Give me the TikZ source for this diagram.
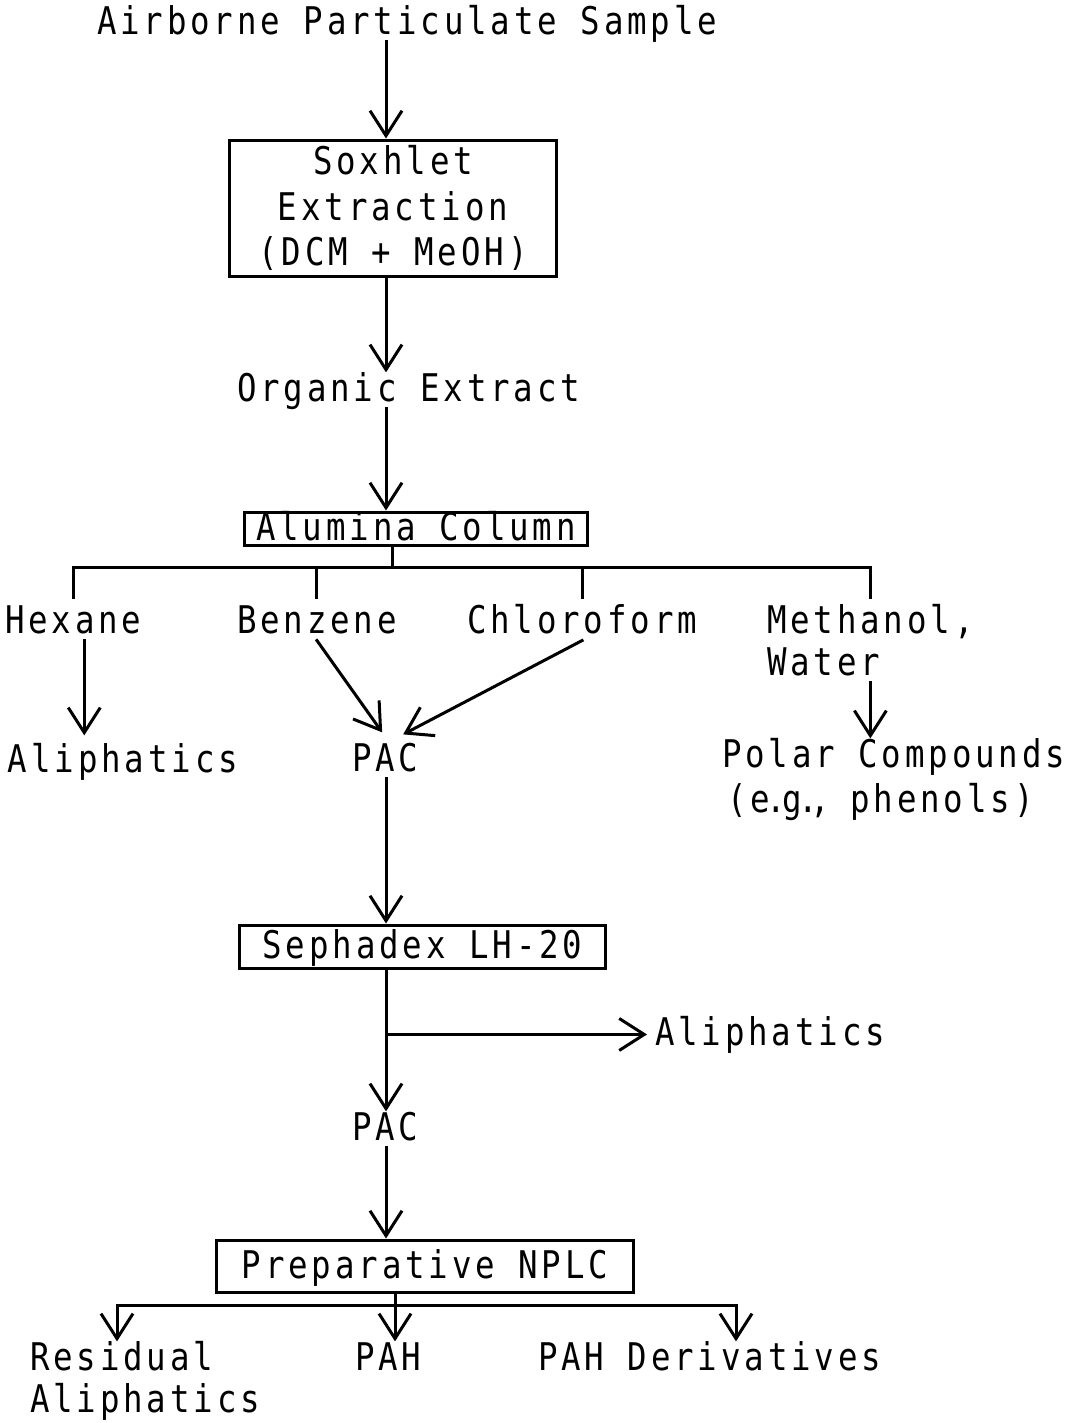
\documentclass[tikz,border=0pt]{standalone}
\usepackage{fontspec}
\setmonofont{DejaVu Sans Mono}[FakeStretch=0.85, LetterSpace=10.2]
\usetikzlibrary{arrows.meta, positioning, calc}

\begin{document}
\begin{tikzpicture}[
    x=0.2mm, y=-0.2mm,
    every node/.style={font=\ttfamily\fontsize{21.7}{25.9}\selectfont},
    lbl/.style={inner sep=0pt, outer sep=0pt, text height=16.3pt, text depth=4.3pt, anchor=base west},
    box/.style={draw, line width=0.6mm, inner sep=0pt, text height=15.6pt, text depth=1.7pt},
    tallbox/.style={draw, line width=0.6mm, inner sep=0pt, align=center},
    wire/.style={line width=0.6mm, line cap=rect},
    arrow/.style={wire, -{Straight Barb[length=5mm, width=6.4mm]}}
]
    \useasboundingbox (0,0) rectangle (1068,1423);
    \coordinate (spine) at (386,0);
    \coordinate (bar) at (392,567);
    \coordinate (fork) at (395,1305);
    \coordinate (forkL) at (117,1305);
    \coordinate (forkR) at (736,1305);

    \node[lbl] (sample) at (97,34) {Airborne Particulate Sample};
    \node[tallbox, minimum width=65.4mm, minimum height=27.2mm] (soxhlet) at (393,208) {Soxhlet\\Extraction\\(DCM + MeOH)};
    \node[lbl] (organic) at (237,401) {Organic Extract};
    \node[box, minimum width=68.4mm, minimum height=6.6mm] (alumina) at (416,528.5) {Alumina Column};

    \node[lbl] (hexane) at (5,633) {Hexane};
    \node[lbl] (benzene) at (237,633) {Benzene};
    \node[lbl] (chloro) at (467,633) {Chloroform};
    \node[lbl] (methanol) at (767,633) {Methanol,};
    \node[lbl] (water) at (767,675) {Water};

    \node[lbl] (aliph1) at (8,772) {Aliphatics};
    \node[lbl] (pac1) at (352,771) {PAC};
    \node[lbl] (polar) at (722,767) {Polar Compounds};
    \node[lbl] (phenols) at (727,812) {(e\kern-2pt.\kern-2pt g\kern-2pt.\kern-2pt\kern-2pt,\kern-2pt{} phenols)};

    \node[box, minimum width=73mm, minimum height=8.6mm] (sephadex) at (422.5,946.5) {Sephadex LH-20};
    \node[lbl] (aliph2) at (655,1045) {Aliphatics};
    \node[lbl] (pac2) at (352,1140) {PAC};
    \node[box, minimum width=83.2mm, minimum height=10.4mm] (nplc) at (425,1266) {Preparative NPLC};

    \node[lbl] (residual) at (30,1370) {Residual};
    \node[lbl] (aliph3) at (30,1412) {Aliphatics};
    \node[lbl] (pah) at (355,1370) {PAH};
    \node[lbl] (pahder) at (538,1370) {PAH Derivatives};

    \draw[arrow] (sample.south -| spine) -- (soxhlet.north -| spine);
    \draw[arrow] (soxhlet.south -| spine) -- (organic.north -| spine);
    \draw[arrow] (organic.south -| spine) -- (alumina.north -| spine);

    \draw[wire] (alumina.south -| bar) -- (bar);
    \draw[wire] (hexane.north |- bar) -- (methanol.north |- bar);
    \foreach \n in {hexane, benzene, chloro, methanol}
        \draw[wire, shorten <=1.4mm] (\n.north) -- (\n.north |- bar);

    \draw[arrow, shorten >=1.6mm] ($(hexane.south)+(11,0)$) -- ($(aliph1.north -| hexane.south)+(11,0)$);
    \draw[arrow] (benzene.south) -- ($(pac1.north)+(-3,-10)$);
    \draw[arrow] (chloro.south) -- ($(pac1.north)+(18,-8)$);
    \draw[arrow] (water.south -| methanol.south) -- (polar.north -| methanol.south);

    \draw[arrow] (pac1.south -| spine) -- (sephadex.north -| spine);
    \draw[arrow] (sephadex.south -| spine) -- (pac2.north -| spine);
    \draw[arrow, shorten >=1.6mm] (aliph2.west -| spine) -- (aliph2.west);
    \draw[arrow] (pac2.south -| spine) -- (nplc.north -| spine);

    \draw[wire] (forkL) -- (forkR);
    \draw[arrow] (nplc.south -| fork) -- (pah.north -| fork);
    \draw[arrow] (forkL) -- (residual.north -| forkL);
    \draw[arrow] (forkR) -- (pahder.north -| forkR);
\end{tikzpicture}
\end{document}
